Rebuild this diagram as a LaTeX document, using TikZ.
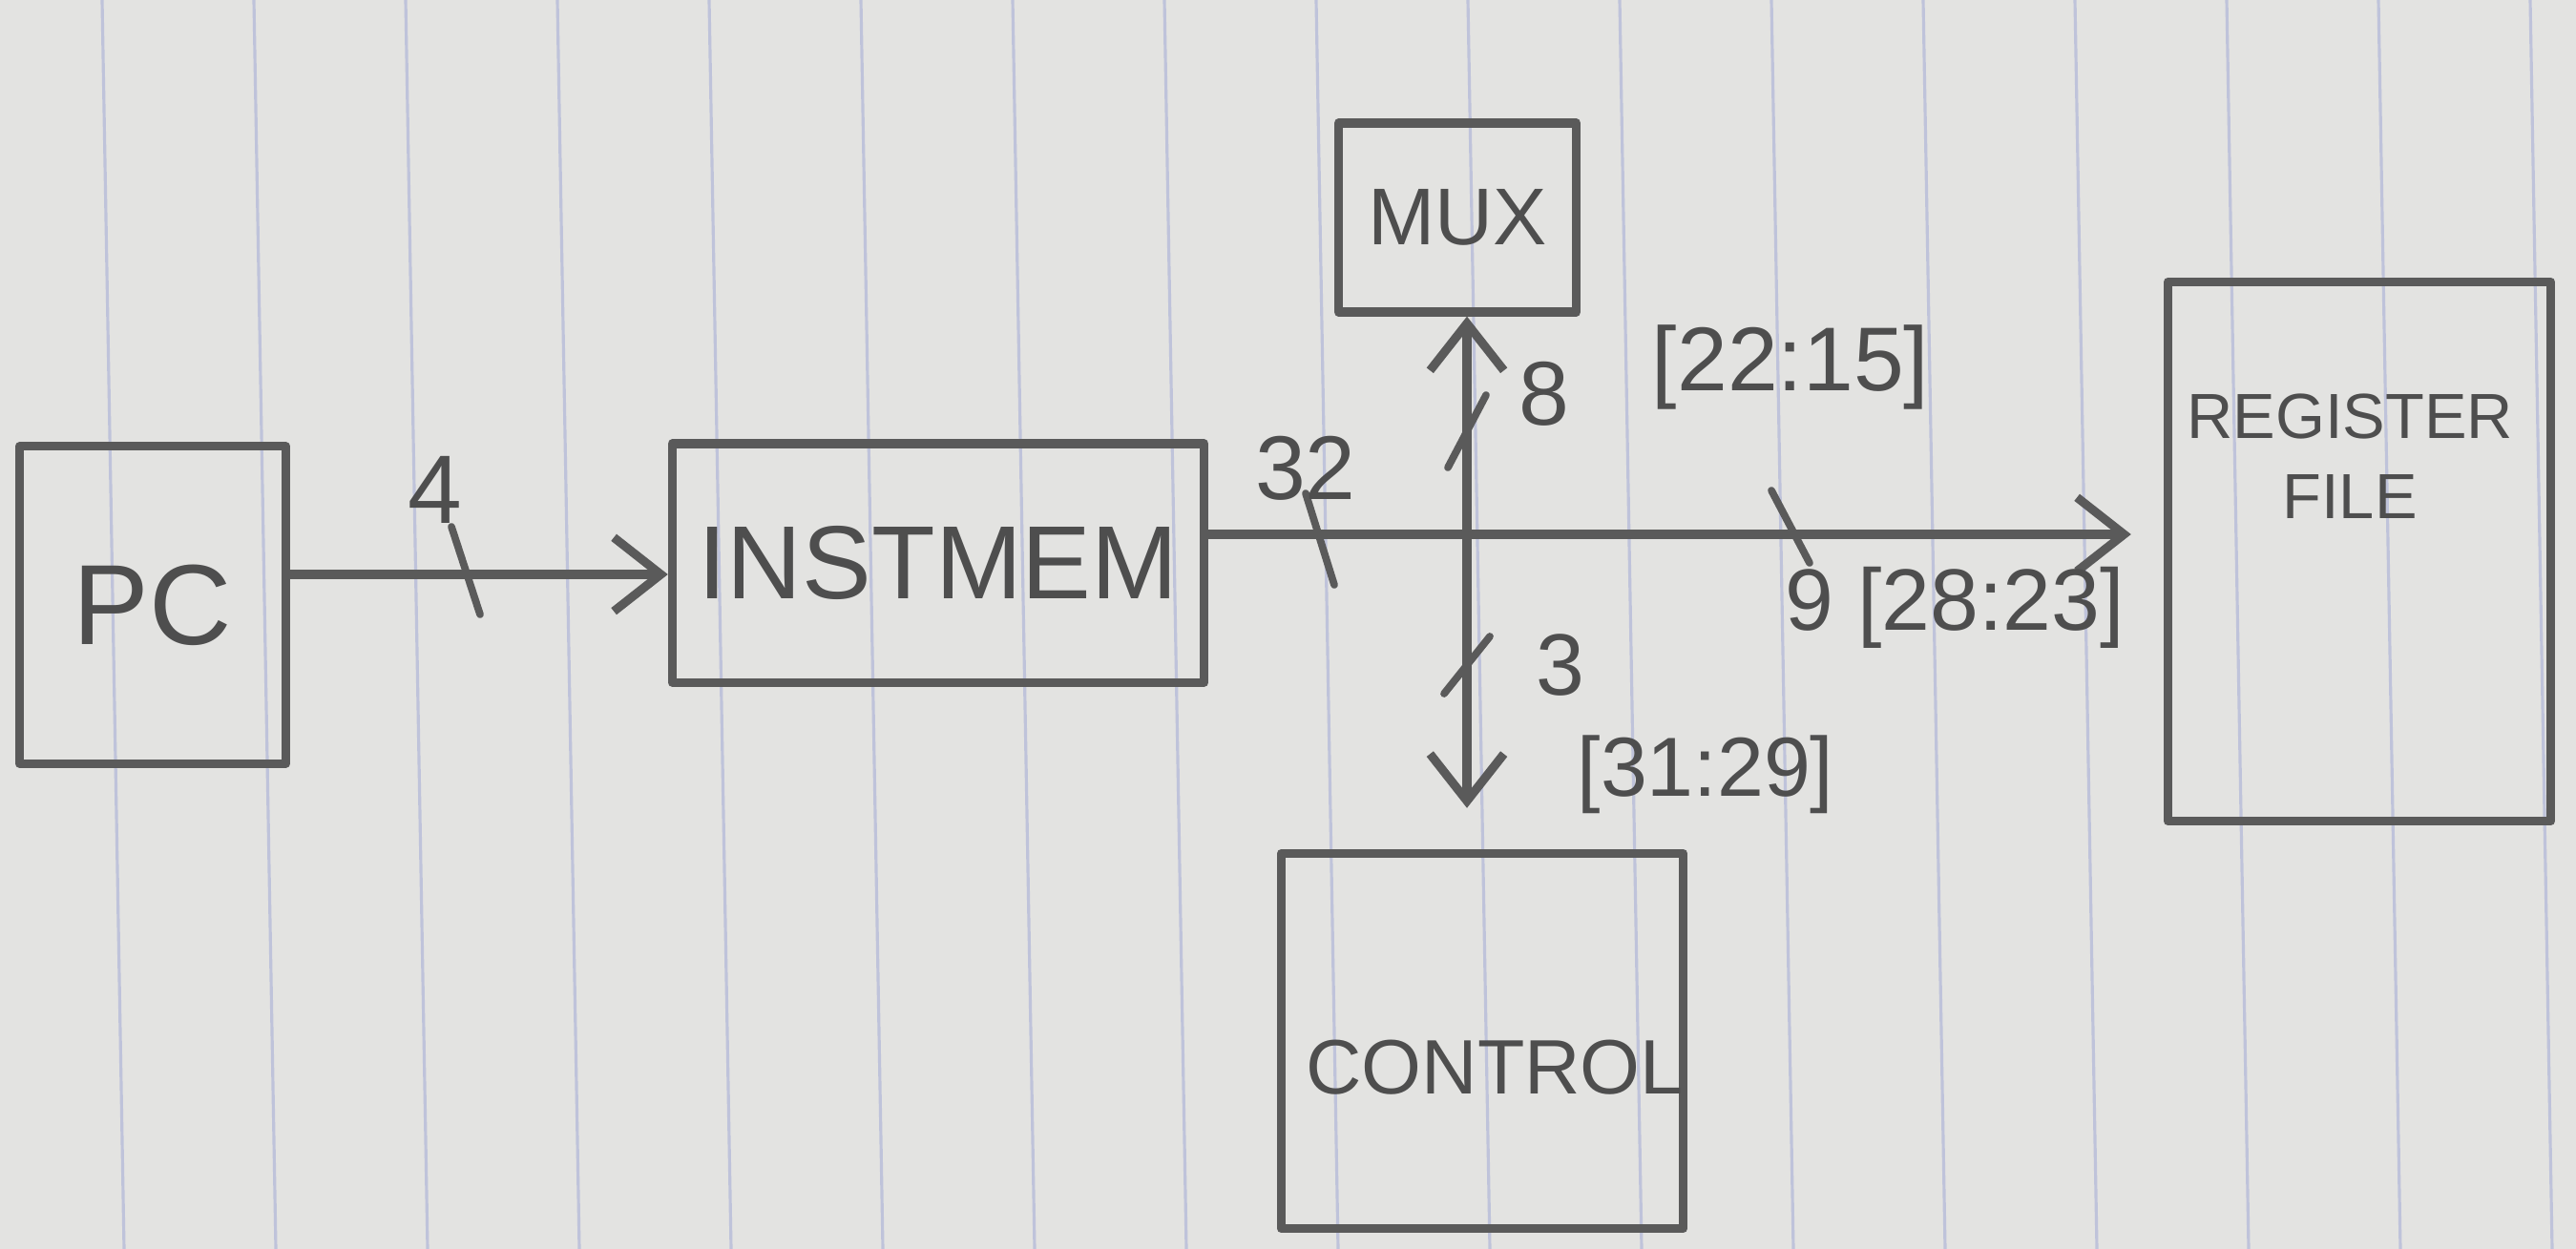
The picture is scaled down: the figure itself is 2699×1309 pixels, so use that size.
\documentclass[tikz,border=0pt]{standalone}
\usepackage{fontspec}
\setmainfont{Liberation Sans}
\usetikzlibrary{arrows.meta}
\definecolor{paper}{HTML}{E3E3E1}
\definecolor{rule}{HTML}{BFC3DA}
\definecolor{inkc}{HTML}{5A5A5A}
\definecolor{txtc}{HTML}{4E4E4E}
\begin{document}
\begin{tikzpicture}[x=0.01cm,y=-0.01cm,
  ink/.style={draw=inkc, line width=2.6pt, line cap=round, line join=round},
  blk/.style={ink, rectangle, inner sep=0pt, text=txtc},
  wire/.style={ink, -{Straight Barb[length=14pt,width=22pt,line width=2.6pt]}},
  lbl/.style={text=txtc, inner sep=0pt},
  hslash/.style={ink, line width=2.2pt},
]
\fill[paper] (0,0) rectangle (2699,1309);
\useasboundingbox (0,0) rectangle (2699,1309);
% notebook rules
\foreach \k in {0,...,16}{
  \draw[rule, line width=0.9pt] ({107+159*\k},0) -- ({130+159*\k},1309);
}
% blocks
\node[blk, minimum width=2.79cm, minimum height=3.32cm, font=\fontsize{34}{40}\selectfont] (pc) at (160,634) {PC};
\node[blk, minimum width=5.57cm, minimum height=2.50cm, font=\fontsize{31}{36}\selectfont] (im) at (983,590) {INSTMEM};
\node[blk, minimum width=2.49cm, minimum height=1.98cm, font=\fontsize{24}{28}\selectfont] (mux) at (1527,228) {MUX};
\node[blk, minimum width=4.01cm, minimum height=5.65cm] (rf) at (2472,578) {};
\node[lbl, align=center, font=\fontsize{19}{24}\selectfont] (rft) at (2462,478) {REGISTER\\FILE};
\node[blk, minimum width=4.21cm, minimum height=3.93cm] (ctl) at (1553,1091) {};
\node[lbl, font=\fontsize{23}{28}\selectfont] (ctlt) at (1566,1119) {CONTROL};
% junction
\coordinate (j) at (1537,560);
% wires
\draw[wire] ([yshift=0.32cm]pc.east) -- ([yshift=0.32cm]pc.east -| im.west);
\draw[ink] (im.east |- j) -- (j);
\draw[wire] (j) -- (j |- mux.south);
\draw[wire, shorten >=0.34cm] (j) -- (j -| rf.west);
\draw[wire, shorten >=0.43cm] (j) -- (j |- ctl.north);
% bus-width slashes
\coordinate (s4) at (488,598);
\coordinate (s32) at (1383,565);
\coordinate (s8) at (1537,452);
\coordinate (s9) at (1876,552);
\coordinate (s3) at (1537,697);
\draw[hslash] ([shift={(-15,-46)}]s4) -- ([shift={(15,46)}]s4);
\draw[hslash] ([shift={(-15,-48)}]s32) -- ([shift={(15,48)}]s32);
\draw[hslash] ([shift={(-20,38)}]s8) -- ([shift={(20,-38)}]s8);
\draw[hslash] ([shift={(-20,-38)}]s9) -- ([shift={(20,38)}]s9);
\draw[hslash] ([shift={(-24,30)}]s3) -- ([shift={(24,-30)}]s3);
% labels
\node[lbl, font=\fontsize{29}{32}\selectfont] (l4) at (456,513) {4};
\node[lbl, font=\fontsize{27}{32}\selectfont] (l32) at (1368,491) {32};
\node[lbl, font=\fontsize{27}{30}\selectfont] (l8) at (1618,413) {8};
\node[lbl, font=\fontsize{27}{32}\selectfont] (l2215) at (1876,385) {[22:15]};
\node[lbl, font=\fontsize{26}{30}\selectfont] (l9) at (2048,637) {9 [28:23]};
\node[lbl, font=\fontsize{26}{28}\selectfont] (l3) at (1635,697) {3};
\node[lbl, font=\fontsize{25}{28}\selectfont] (l3129) at (1787,812) {[31:29]};
\end{tikzpicture}
\end{document}
